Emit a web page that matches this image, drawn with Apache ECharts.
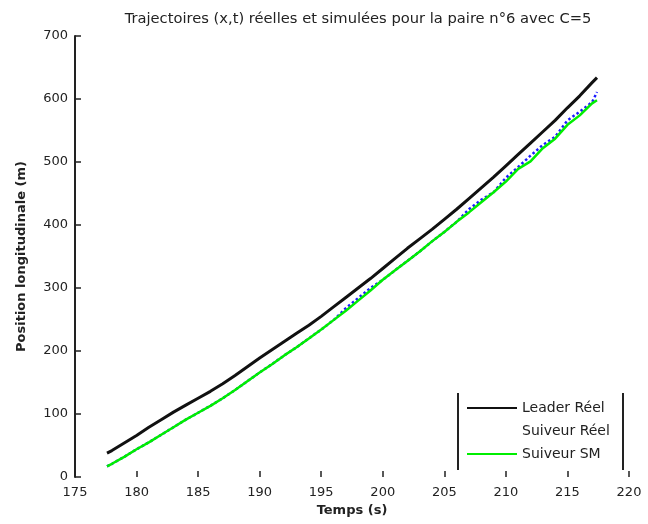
<!DOCTYPE html>
<html>
<head>
<meta charset="utf-8">
<script src="https://cdn.jsdelivr.net/npm/echarts@6/dist/echarts.min.js"></script>
<style>
  html, body { margin: 0; padding: 0; background: #fff; }
  #chart { width: 648px; height: 524px; }
</style>
</head>
<body>
<div id="chart"></div>
<script>
// Time samples (s)
const temps = [177.6, 178, 179, 180, 181, 182, 183, 184, 185, 186, 187, 188, 189, 190,
  191, 192, 193, 194, 195, 196, 197, 198, 199, 200, 201, 202, 203, 204, 205, 206,
  207, 208, 209, 210, 211, 212, 213, 214, 215, 216, 217, 217.4];

// Leader, measured position (m)
const leaderReel = [38, 42, 54, 66, 79, 91, 103, 114, 125, 136, 148, 161, 175, 189,
  202, 215, 228, 241, 255, 270, 285, 300, 315, 331, 347, 363, 378, 393, 409, 425,
  442, 459, 476, 494, 512, 530, 548, 566, 586, 605, 626, 634];

// Follower, measured position (m)
const suiveurReel = [17, 21, 32, 44, 55, 67, 79, 91, 102, 113, 125, 138, 152, 166,
  179, 193, 206, 220, 234, 249, 268, 284, 300, 313, 328, 343, 358, 374, 389, 405,
  425, 440, 452, 475, 492, 510, 527, 540, 566, 580, 595, 611];

// Follower, simulated position (m)
const suiveurSM = [17, 21, 32, 44, 55, 67, 79, 91, 102, 113, 125, 138, 152, 166,
  179, 193, 206, 220, 234, 249, 264, 280, 296, 313, 328, 343, 358, 374, 389, 405,
  420, 436, 452, 469, 489, 501, 522, 537, 559, 574, 593, 598];

const xTicks = { min: 175, max: 220, step: 5 };
const yTicks = { min: 0, max: 700, step: 100 };

const pairs = (ys) => temps.map((t, i) => [t, ys[i]]);

const font = 'DejaVu Sans, sans-serif';
const chart = echarts.init(document.getElementById('chart'), null, { renderer: 'canvas' });

chart.setOption({
  animation: false,
  backgroundColor: '#ffffff',
  title: {
    text: 'Trajectoires (x,t) réelles et simulées pour la paire n°6 avec C=5',
    left: 353, top: 7, textAlign: 'center',
    textStyle: { fontFamily: font, fontSize: 14.7, fontWeight: 'normal', color: '#222' }
  },
  grid: { left: 75, right: 19, top: 36, bottom: 47 },
  xAxis: {
    type: 'value', min: xTicks.min, max: xTicks.max, interval: xTicks.step,
    name: 'Temps (s)', nameLocation: 'middle', nameGap: 27,
    nameTextStyle: { fontFamily: font, fontSize: 13, fontWeight: 'bold', color: '#222' },
    axisLine: { show: false },
    axisTick: { show: true, inside: true, length: 6, lineStyle: { color: '#222', width: 1.5 } },
    axisLabel: { fontFamily: font, fontSize: 13, color: '#222', margin: 9 },
    splitLine: { show: false }
  },
  yAxis: {
    type: 'value', min: yTicks.min, max: yTicks.max, interval: yTicks.step,
    name: 'Position longitudinale (m)', nameLocation: 'middle', nameGap: 47, nameRotate: 90,
    nameTextStyle: { fontFamily: font, fontSize: 13, fontWeight: 'bold', color: '#222' },
    axisLine: { show: true, lineStyle: { color: '#222', width: 2 } },
    axisTick: { show: true, inside: true, length: 6, lineStyle: { color: '#222', width: 1.5 } },
    axisLabel: { fontFamily: font, fontSize: 13, color: '#222', margin: 7 },
    splitLine: { show: false }
  },
  legend: {
    orient: 'vertical', left: 461, top: 396, itemWidth: 50, itemHeight: 14, itemGap: 9,
    textStyle: { fontFamily: font, fontSize: 14, color: '#222' },
    data: [
      { name: 'Leader Réel', itemStyle: { opacity: 0 } },
      { name: 'Suiveur Réel', itemStyle: { opacity: 0 }, lineStyle: { opacity: 0 } },
      { name: 'Suiveur SM', itemStyle: { opacity: 0 } }
    ]
  },
  graphic: [
    { type: 'line', shape: { x1: 458, y1: 393, x2: 458, y2: 470 }, style: { stroke: '#222', lineWidth: 2 } },
    { type: 'line', shape: { x1: 623, y1: 393, x2: 623, y2: 470 }, style: { stroke: '#222', lineWidth: 2 } }
  ],
  series: [
    {
      name: 'Suiveur Réel', type: 'line', data: pairs(suiveurReel), symbol: 'none',
      lineStyle: { color: '#1a1aff', width: 2.5, type: 'dotted' }, itemStyle: { color: '#1a1aff' }, z: 1
    },
    {
      name: 'Suiveur SM', type: 'line', data: pairs(suiveurSM), symbol: 'none',
      lineStyle: { color: '#00ee00', width: 2.5 }, itemStyle: { color: '#00ee00' }, z: 2
    },
    {
      name: 'Leader Réel', type: 'line', data: pairs(leaderReel), symbol: 'none',
      lineStyle: { color: '#111', width: 3 }, itemStyle: { color: '#111' }, z: 3
    }
  ]
});
</script>
</body>
</html>
